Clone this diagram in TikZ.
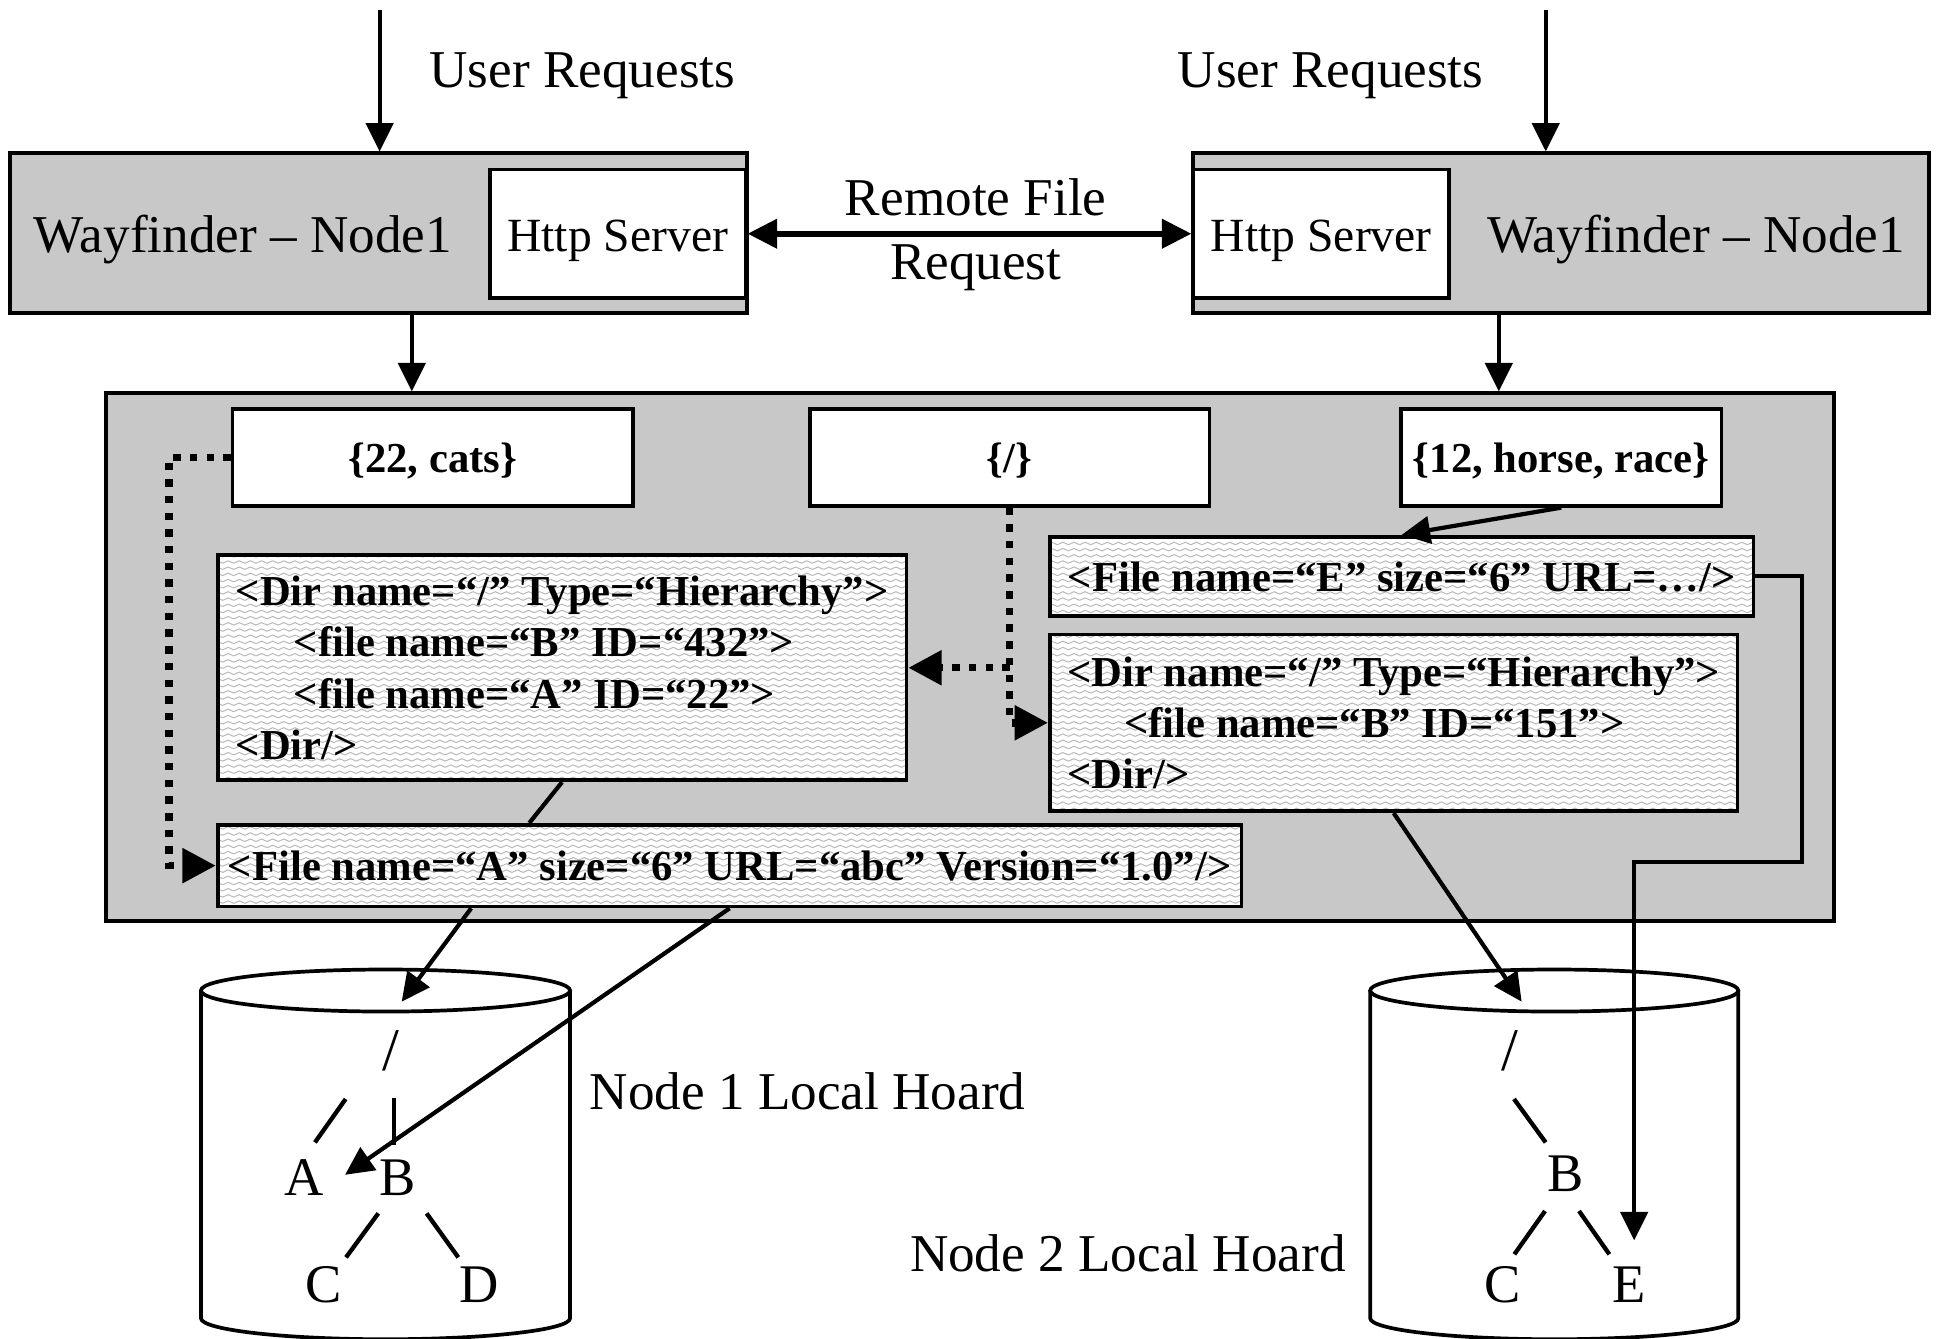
\documentclass[tikz,border=0pt]{standalone}
\usepackage{fontspec}
\setmainfont{Liberation Serif}
\usetikzlibrary{arrows.meta,patterns,calc}

\definecolor{panelgray}{RGB}{200,200,200}
\definecolor{hatchgray}{RGB}{185,185,185}

% light zig-zag texture used behind the XML records
\pgfdeclarepatternformonly{wavy}{\pgfpoint{-1pt}{-1pt}}{\pgfpoint{10pt}{6pt}}{\pgfpoint{9pt}{5pt}}{%
  \pgfsetlinewidth{0.8pt}%
  \pgfpathmoveto{\pgfpoint{0pt}{1.5pt}}%
  \pgfpathlineto{\pgfpoint{4.5pt}{3.5pt}}%
  \pgfpathlineto{\pgfpoint{9pt}{1.5pt}}%
  \pgfusepath{stroke}%
}

\tikzset{
  reg/.style={font=\fontsize{43}{50}\selectfont, inner sep=0pt},
  wfpanel/.style={draw, line width=3pt, fill=panelgray, inner sep=0pt},
  srvbox/.style={draw, line width=3pt, fill=white, inner sep=0pt,
    minimum width=207pt, minimum height=104pt,
    font=\fontsize{38.5}{46}\selectfont, text height=32pt, text depth=3pt},
  keybox/.style={draw, line width=3pt, fill=white, inner sep=0pt, minimum height=78pt,
    font=\bfseries\fontsize{34.5}{40}\selectfont, text height=27pt, text depth=3pt},
  xmlbox/.style={draw, line width=3pt, preaction={fill=white}, pattern=wavy,
    pattern color=hatchgray, inner sep=0pt, font=\bfseries\fontsize{34.5}{41.5}\selectfont},
  xmlline/.style={xmlbox, text height=27pt, text depth=3pt},
  conn/.style={line width=3.4pt, -{Triangle[length=23pt,width=22pt]}},
  plainline/.style={line width=3.4pt},
  dotsq/.style={line width=6pt, dash pattern=on 6pt off 7.5pt,
    -{Triangle[length=27pt,width=27pt]}},
  twoway/.style={line width=5pt,
    {Triangle[length=24pt,width=23pt]}-{Triangle[length=24pt,width=23pt]}},
  leaf/.style={font=\fontsize{44}{50}\selectfont, inner sep=0pt},
  rootmark/.style={font=\fontsize{49}{50}\selectfont, inner sep=0pt},
  treeedge/.style={line width=3.5pt},
  drum/.style={line width=3pt},
}

\begin{document}
\begin{tikzpicture}[x=1pt,y=-1pt]
\fill[white] (0,0) rectangle (1568,1082);
\useasboundingbox (0,0) rectangle (1568,1082);

% ---- Wayfinder nodes with their HTTP servers ----
\node[wfpanel, minimum width=596pt, minimum height=129pt] (wf1) at (306,188.5) {};
\node[reg, anchor=base] (wf1t) at (196.5,204.5) {Wayfinder – Node1};
\node[srvbox] (http1) at (499.5,189) {Http Server};

\node[wfpanel, minimum width=595pt, minimum height=129pt] (wf2) at (1262.5,188.5) {};
\node[reg, anchor=base] (wf2t) at (1371.5,204.5) {Wayfinder – Node1};
\node[srvbox] (http2) at (1068.5,189) {Http Server};

% ---- incoming user requests ----
\coordinate (src1) at (307,8);
\coordinate (src2) at (1250,8);
\node[reg, anchor=base] (ur1) at (471,71) {User Requests};
\node[reg, anchor=base] (ur2) at (1076,71) {User Requests};
\draw[conn] (src1) -- (src1 |- wf1.north);
\draw[conn] (src2) -- (src2 |- wf2.north);

% ---- remote file request ----
\node[reg, anchor=base] (rf1) at (789,174) {Remote File};
\node[reg, anchor=base] (rf2) at (789,226) {Request};
\draw[twoway] (http1.east) -- (http2.west);

% ---- shared metadata panel ----
\node[wfpanel, minimum width=1397pt, minimum height=427pt] (hoard) at (784.5,531.5) {};
\draw[conn] ([xshift=27pt]wf1.south) -- ([xshift=27pt]wf1.south |- hoard.north);
\draw[conn] ([xshift=-50.5pt]wf2.south) -- ([xshift=-50.5pt]wf2.south |- hoard.north);

\node[keybox, minimum width=324pt] (k1) at (350,370) {\{22, cats\}};
\node[keybox, minimum width=323pt] (k2) at (816.5,370) {\{/\}};
\node[keybox, minimum width=259pt] (k3) at (1262.5,370) {\{12, horse, race\}};

\node[xmlbox, minimum width=557pt, minimum height=182pt, align=left] (dirL) at (454.5,540)
  {<Dir name=“/” Type=“Hierarchy”>\\\hspace*{47pt}<file name=“B” ID=“432”>\\\hspace*{47pt}<file name=“A” ID=“22”>\\<Dir/>};
\node[xmlline, minimum width=569pt, minimum height=64pt] (fileE) at (1133.5,466)
  {<File name=“E” size=“6” URL=…/>};
\node[xmlbox, minimum width=556pt, minimum height=143pt, align=left] (dirR) at (1127,584.5)
  {<Dir name=“/” Type=“Hierarchy”>\\\hspace*{46pt}<file name=“B” ID=“151”>\\<Dir/>};
\node[xmlline, minimum width=828pt, minimum height=66pt] (fileA) at (590,700)
  {<File name=“A” size=“6” URL=“abc” Version=“1.0”/>};

% ---- local hoards ----
\draw[drum] (162.5,801) -- (162.5,1066) arc[start angle=180, end angle=360, x radius=149.25pt, y radius=17pt] -- (461,801);
\draw[drum] (311.75,801) ellipse [x radius=149.25pt, y radius=17pt];
\draw[drum] (1108,801) -- (1108,1066) arc[start angle=180, end angle=360, x radius=148.85pt, y radius=17pt] -- (1405.7,801);
\draw[drum] (1256.85,801) ellipse [x radius=148.85pt, y radius=17pt];

\node[reg, anchor=base] (h1) at (653,897) {Node 1 Local Hoard};
\node[reg, anchor=base] (h2) at (912,1028.5) {Node 2 Local Hoard};

% tree held by hoard 1
\node[rootmark] (root1) at (316,850) {/};
\node[leaf] (A1) at (245.8,952.6) {A};
\node[leaf] (B1) at (321.3,952.6) {B};
\node[leaf] (C1) at (262,1039) {C};
\node[leaf] (D1) at (387.4,1039) {D};
\draw[treeedge] (279.5,888.7) -- (254.7,923.8);
\draw[treeedge] (318.6,888) -- (318.6,926);
\draw[treeedge] (305.9,981.2) -- (279.8,1016.8);
\draw[treeedge] (345,981.2) -- (370.6,1016.8);

% tree held by hoard 2
\node[rootmark] (root2) at (1221,850) {/};
\node[leaf] (B2) at (1266.4,949.4) {B};
\node[leaf] (C2) at (1215.2,1039) {C};
\node[leaf] (E2) at (1317.6,1039) {E};
\draw[treeedge] (1224.3,888.7) -- (1249.9,923.8);
\draw[treeedge] (1249.4,979.3) -- (1224.6,1014.3);
\draw[treeedge] (1276.9,979.3) -- (1301.4,1014.3);

% ---- connectors inside and below the panel ----
\coordinate (top1) at (324.8,810);
\coordinate (top2) at (1230.5,810);
\coordinate (aTip) at (279,950);
\coordinate (eTip) at (1321.5,1003);

\draw[dotsq] (k1.west) -- ++(-50,0) |- (fileA.west);
\draw[dotsq] (k2.south) |- (dirR.west);
\draw[dotsq] (k2.south |- dirL.east) -- (dirL.east);
\draw[conn] (k3.south) -- (fileE.north);
\draw[conn] (fileE.east) -- ++(38,0) -- ++(0,231) -| (eTip);
\draw[plainline] (dirL.south) -- ([xshift=-162pt]fileA.north);
\draw[conn] (dirR.south) -- (top2);
\draw[conn] ([xshift=-209pt]fileA.south) -- (top1);
\draw[conn] (fileA.south) -- (aTip);
\end{tikzpicture}
\end{document}
